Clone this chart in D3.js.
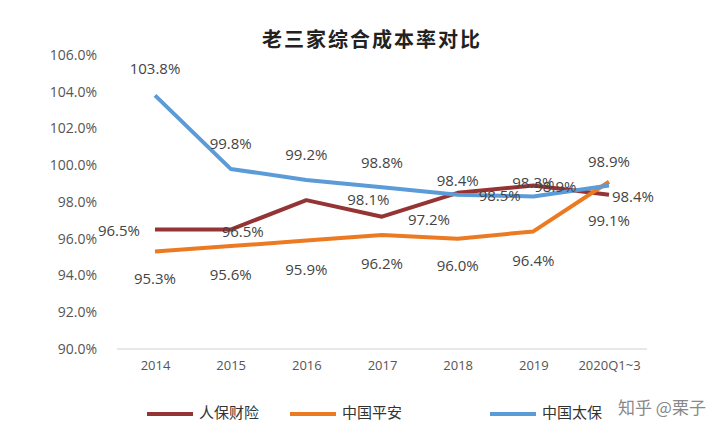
<!DOCTYPE html>
<html lang="zh">
<head>
<meta charset="UTF-8"/>
<script src="https://d3js.org/d3.v7.min.js"></script>
<style>
  body { margin: 0; background: #fff; }
  text { font-family: "Open Sans", "Noto Sans CJK SC", sans-serif; fill: #404040; }
  .title { font-family: "Noto Sans CJK SC", serif; font-size: 20px; font-weight: bold; fill: #222; letter-spacing: 2px; }
  .tick text { font-size: 14px; fill: #555; }
  .lbl { font-size: 15px; fill: #444; }
  .legend text { font-family: "Noto Sans CJK SC", sans-serif; font-size: 15px; fill: #333; }
</style>
</head>
<body>
<script>
const years = ["2014", "2015", "2016", "2017", "2018", "2019", "2020Q1~3"]
const renbao = [96.5, 96.5, 98.1, 97.2, 98.5, 98.9, 98.4]
const pingan = [95.3, 95.6, 95.9, 96.2, 96.0, 96.4, 99.1]
const taibao = [103.8, 99.8, 99.2, 98.8, 98.4, 98.3, 98.9]
const yTicks = [90, 92, 94, 96, 98, 100, 102, 104, 106]

const series = [
  { name: "人保财险", values: renbao, color: "#943434",
    offs: [[-36, 2], [12, 3], [62, 1], [47, 4], [42, 4], [22, 3], [24, 3]] },
  { name: "中国平安", values: pingan, color: "#ec7a22",
    offs: [[0, 28], [0, 30], [0, 30], [0, 30], [0, 28], [0, 31], [0, 40]] },
  { name: "中国太保", values: taibao, color: "#5b9bd8",
    offs: [[0, -25], [0, -24], [0, -24], [0, -23], [0, -13], [0, -13], [0, -22]] }
]
const legendX = [147, 290, 490]

const W = 713, H = 437
const svg = d3.select("body").append("svg").attr("width", W).attr("height", H)

const x = d3.scalePoint().domain(years).range([155, 609])
const y = d3.scaleLinear().domain([90, 106]).range([349, 55])

svg.append("text").attr("class", "title").attr("x", 372).attr("y", 47)
  .attr("text-anchor", "middle").text("老三家综合成本率对比")

svg.append("line").attr("x1", 117).attr("x2", 647).attr("y1", 349).attr("y2", 349)
  .attr("stroke", "#d0d0d0")

const yAxis = svg.append("g").attr("transform", "translate(100,0)")
  .call(d3.axisLeft(y).tickValues(yTicks).tickSize(0).tickFormat(d => d.toFixed(1) + "%"))
yAxis.select(".domain").remove()

const xAxis = svg.append("g").attr("transform", "translate(0,349)")
  .call(d3.axisBottom(x).tickSize(0).tickPadding(12))
xAxis.select(".domain").remove()
xAxis.selectAll(".tick text").style("font-size", "13px")

const line = d3.line().x((d, i) => x(years[i])).y(d => y(d))

series.forEach(s => {
  svg.append("path").datum(s.values).attr("d", line)
    .attr("fill", "none").attr("stroke", s.color).attr("stroke-width", 4)
    .attr("stroke-linejoin", "round")
})

series.forEach(s => {
  svg.append("g").selectAll("text").data(s.values).join("text")
    .attr("class", "lbl")
    .attr("x", (d, i) => x(years[i]) + s.offs[i][0])
    .attr("y", (d, i) => y(d) + s.offs[i][1])
    .attr("text-anchor", "middle").attr("dominant-baseline", "middle")
    .text(d => d.toFixed(1) + "%")
})

const lg = svg.append("g").attr("class", "legend")
series.forEach((s, i) => {
  const gx = legendX[i]
  lg.append("line").attr("x1", gx).attr("x2", gx + 46).attr("y1", 414).attr("y2", 414)
    .attr("stroke", s.color).attr("stroke-width", 4)
  lg.append("text").attr("x", gx + 52).attr("y", 414).attr("dominant-baseline", "middle").text(s.name)
})

svg.append("text").attr("x", 662).attr("y", 409).attr("text-anchor", "middle")
  .attr("dominant-baseline", "middle")
  .style("font-family", "Noto Sans CJK SC").style("font-size", "17px").style("fill", "#888")
  .text("知乎 @栗子")
</script>
</body>
</html>
